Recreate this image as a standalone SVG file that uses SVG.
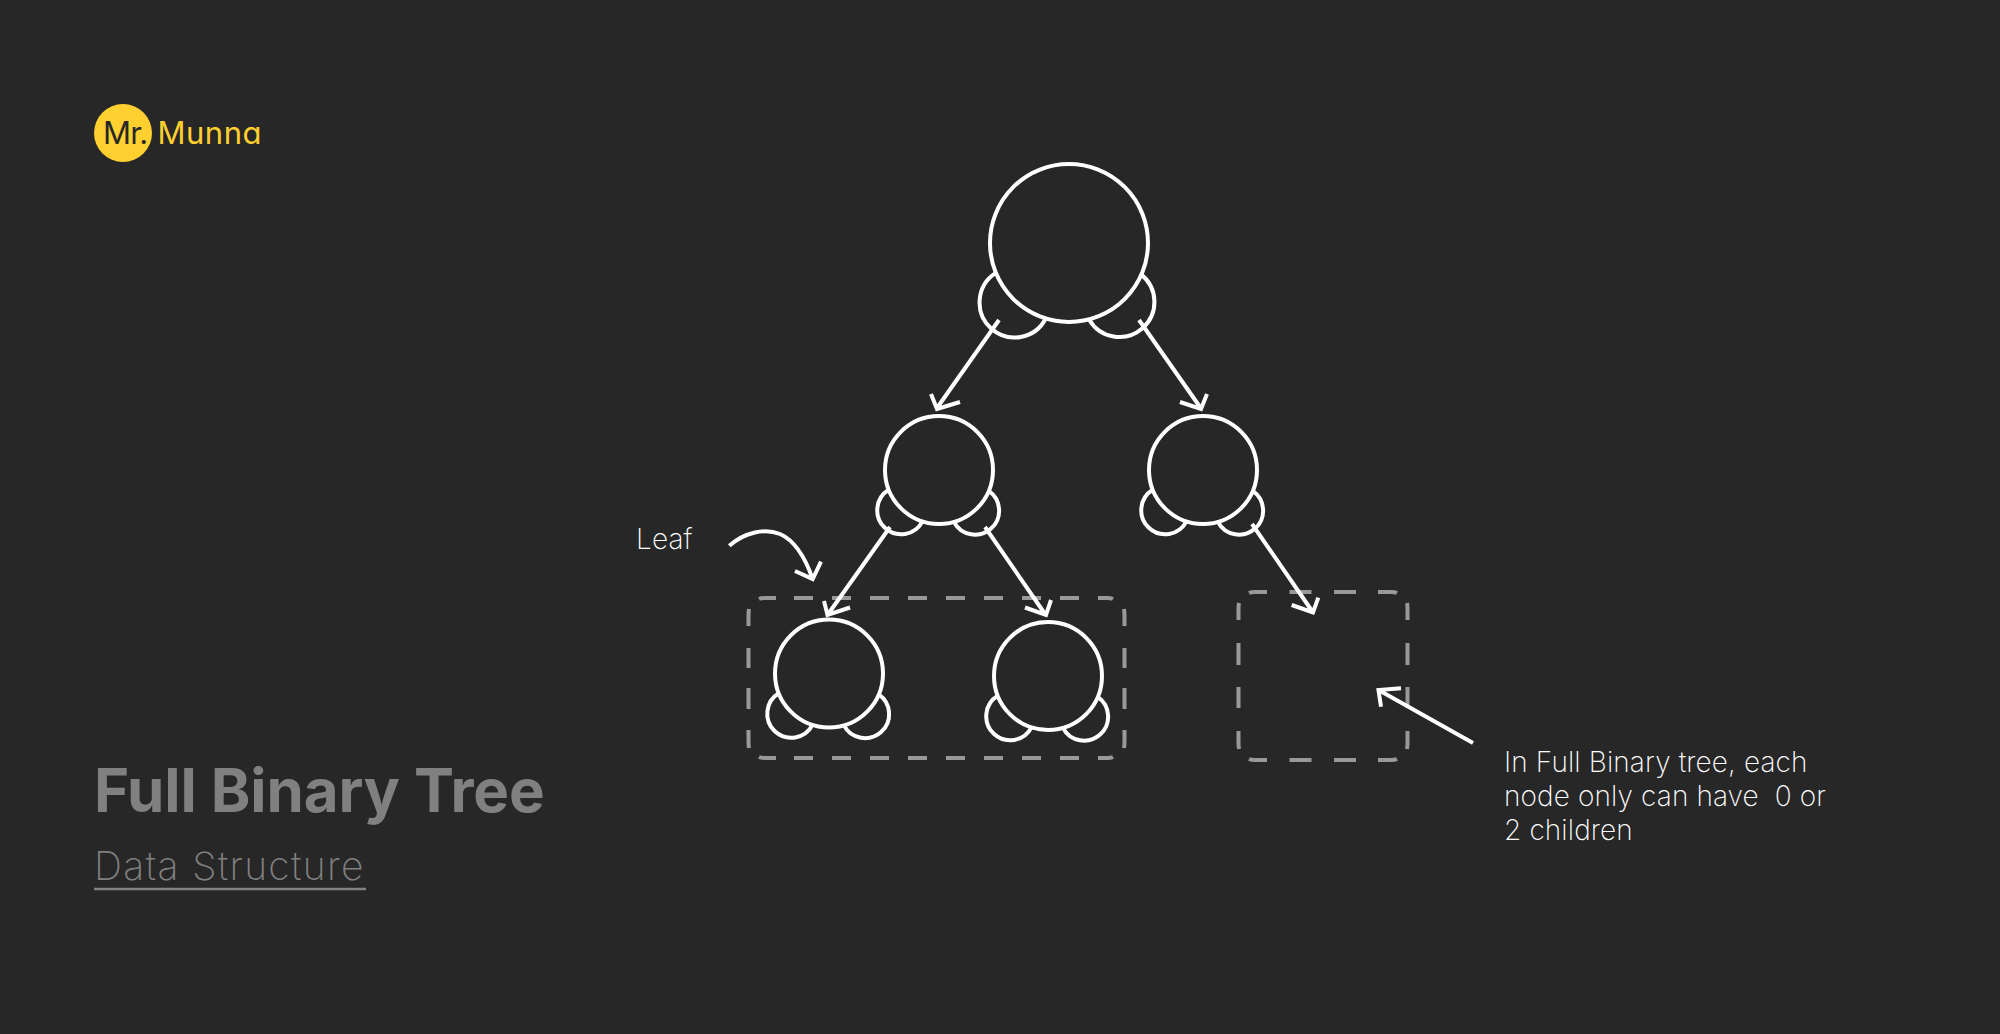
<svg xmlns="http://www.w3.org/2000/svg" width="2000" height="1034" viewBox="0 0 2000 1034">
<style>
.bg{fill:#272727}
.n{fill:none;stroke:#fff;stroke-width:4}
.c{fill:none;stroke:#fff;stroke-width:4;stroke-linecap:butt;stroke-linejoin:miter}
.d{fill:none;stroke:#999;stroke-width:4}
.t{font-family:Inter,"Liberation Sans",sans-serif;font-weight:200;font-size:28px;letter-spacing:.12px;fill:#fff}
.title{font-family:Inter,"Liberation Sans",sans-serif;font-weight:700;font-size:60px;letter-spacing:-.1px;fill:#808080}
.sub{font-family:Inter,"Liberation Sans",sans-serif;font-weight:250;font-size:39px;letter-spacing:1.3px;fill:#808080}
.logo{font-family:Inter,"Liberation Sans",sans-serif;font-size:31px;font-feature-settings:"cv11"}
</style>
<defs>
<path id="lobes" class="n" d="M-50.300 19.800A24 24 0 1 0 -16.500 51.400M14.900 51.900A24 24 0 1 0 49.700 20.900"/>
</defs>
<rect class="bg" width="2000" height="1034"/>
<g id="logo">
<circle cx="123" cy="133" r="29" fill="#ffd02f"/>
<text class="logo" x="103" y="143.500" fill="#272727" letter-spacing="-.8">Mr.</text>
<text class="logo" x="157.500" y="143.500" fill="#ffd02f" font-weight="400" letter-spacing=".5">Munna</text>
</g>
<g id="title">
<text class="title" x="94" y="811.500">Full Binary Tree</text>
<text class="sub" x="94" y="880">Data Structure</text>
<path d="M94 889H366" stroke="#808080" stroke-width="2.500" fill="none"/>
</g>
<g id="leaf-group">
<path class="d" d="M759 599Q761 598 765 598H776M794 598H813M832 598H851M870 598H889M908 598H927M946 598H965M984 598H1003M1022 598H1041M1060 598H1079M1098 598H1107Q1111 598 1113 599M1124 609Q1124.500 612 1124.500 616V626M1124.500 648V668M1124.500 688V709M1124.500 730V741Q1124.500 745 1124 748M1113 757Q1111 758 1107 758H1098M1079 758H1060M1041 758H1022M1003 758H984M965 758H946M927 758H908M889 758H870M851 758H832M813 758H794M776 758H765Q761 758 759 757M749 748Q748.500 745 748.500 741V730M748.500 709V688M748.500 668V648M748.500 626V616Q748.500 612 749 609"/>
</g>
<g id="null-group">
<path class="d" d="M1249 593Q1251 592 1255 592H1267M1289.500 592H1311.500M1334 592H1356M1378 592H1391Q1395 592 1397 593M1407 603Q1407.500 605 1407.500 609V620M1407.500 643V665M1407.500 687V708M1407.500 731V743Q1407.500 746 1407 749M1397 759Q1395 760 1391 760H1378M1356 760H1334M1311.500 760H1289.500M1267 760H1255Q1251 760 1249 759M1239 749Q1238.500 746 1238.500 743V731M1238.500 708V687M1238.500 665V643M1238.500 620V609Q1238.500 605 1239 603"/>
</g>
<g id="node-root">
<circle class="n" cx="1069" cy="243" r="79"/>
<path class="n" d="M995.900 272.900A35 35 0 1 0 1045.700 318.500"/>
<path class="n" d="M1089.100 319.400A35 35 0 1 0 1141.300 274.600"/>
</g>
<g id="node-left" transform="translate(939 470)">
<circle class="n" r="54"/>
<use href="#lobes"/>
</g>
<g id="node-right" transform="translate(1203 470)">
<circle class="n" r="54"/>
<use href="#lobes"/>
</g>
<g id="node-leaf-1" transform="translate(829 673.500)">
<circle class="n" r="54"/>
<use href="#lobes"/>
</g>
<g id="node-leaf-2" transform="translate(1048 676)">
<circle class="n" r="54"/>
<use href="#lobes"/>
</g>
<g id="connectors">
<path class="c" d="M999 320L937 408M960 402L937 409L931 394"/>
<path class="c" d="M1139 320L1200.700 408M1180 402L1201 409L1207 394"/>
<path class="c" d="M890 527L827.500 615M850 607.500L827.500 615L824 601"/>
<path class="c" d="M985 527L1045.700 615M1025 607.500L1046 615L1051 600"/>
<path class="c" d="M1252 524L1312.700 612M1291.700 605L1313 612.500L1318.300 597.700"/>
<path class="c" d="M1473 743L1378.500 690M1401 688.300L1378.500 690L1381 706.700"/>
<path class="c" d="M729.300 545.700C745 532 765 528 780 534C796 541 806 560 812.700 579M795 571L812.700 579L821 561.700"/>
</g>
<g id="labels">
<text class="t" x="636" y="549">Leaf</text>
<text class="t" x="1504" y="772">In Full Binary tree, each</text>
<text class="t" x="1504" y="806" xml:space="preserve">node only can have  0 or</text>
<text class="t" x="1504" y="840">2 children</text>
</g>
</svg>
